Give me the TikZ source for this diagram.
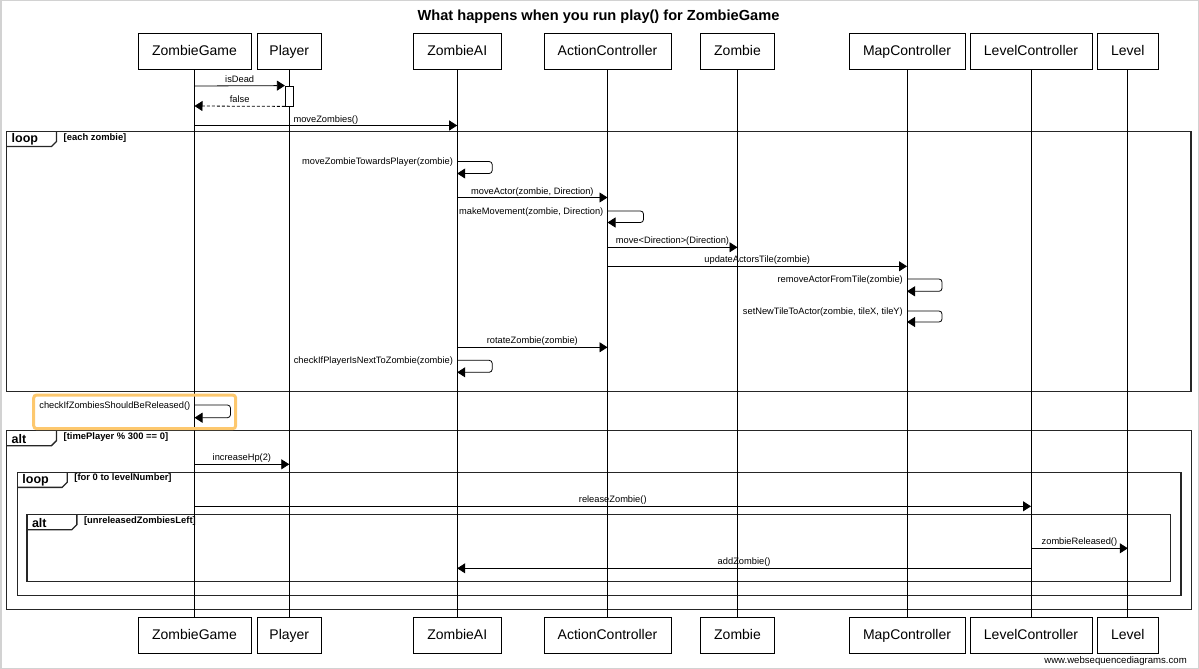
\documentclass[tikz,border=0pt]{standalone}
\usepackage{fontspec}
\setmainfont{Liberation Sans}
\usetikzlibrary{arrows.meta}
\definecolor{hl}{RGB}{253,200,110}
\tikzset{
  part/.style={draw, line width=0.8pt, minimum height=36pt, inner sep=0pt, fill=white, text height=11pt, text depth=3pt, font=\fontsize{14}{16}\selectfont},
  life/.style={line width=0.8pt},
  msg/.style={line width=0.8pt, -{Triangle[length=8pt,width=10pt]}},
  ret/.style={msg, dash pattern=on 3pt off 2pt},
  lbl/.style={font=\fontsize{9.3}{10}\selectfont, inner sep=1pt, text height=7pt, text depth=2pt},
  actbar/.style={draw, fill=white, line width=0.8pt, minimum width=8pt, minimum height=20pt, inner sep=0pt},
  frm/.style={line width=1.4pt, draw=black!85},
  kw/.style={font=\bfseries\fontsize{12.5}{14}\selectfont, inner sep=0pt},
  guard/.style={font=\bfseries\fontsize{9.4}{11}\selectfont, anchor=north west, inner sep=0pt},
  selfmsg/.style={msg, rounded corners=3pt},
}
\newcommand\sqframe[7]{%
  \draw[frm] (#2,#3) rectangle (#4,#5);
  \draw[frm] (#2,#3+15) -- (#2+45,#3+15) -- (#2+50,#3+10) -- (#2+50,#3);
  \node[kw, anchor=west] (#1k) at (#2+5,#3+8) {#6};
  \node[guard] (#1g) at (#2+57,#3+1.5) {#7};
}
\begin{document}
\begin{tikzpicture}[x=1pt,y=-1pt]
\useasboundingbox (0,0) rectangle (1199,669);
\draw[gray!35, line width=1.5pt] (0.75,0.75) rectangle (1198.25,668.25);

\node[font=\bfseries\fontsize{14.6}{16}\selectfont] (title) at (598.5,17) {What happens when you run play() for ZombieGame};

% participants top
\node[part, minimum width=113pt] (zgT) at (194.5,51.5) {ZombieGame};
\node[part, minimum width=64pt]  (plT) at (289.3,51.5) {Player};
\node[part, minimum width=88pt]  (aiT) at (457.2,51.5) {ZombieAI};
\node[part, minimum width=127pt] (acT) at (607.5,51.5) {ActionController};
\node[part, minimum width=74pt]  (zT)  at (737.5,51.5) {Zombie};
\node[part, minimum width=116pt] (mcT) at (907,51.5) {MapController};
\node[part, minimum width=122pt] (lcT) at (1031,51.5) {LevelController};
\node[part, minimum width=61pt]  (lvT) at (1127.8,51.5) {Level};
% participants bottom
\node[part, minimum width=113pt] (zgB) at (194.5,635) {ZombieGame};
\node[part, minimum width=64pt]  (plB) at (289.3,635) {Player};
\node[part, minimum width=88pt]  (aiB) at (457.2,635) {ZombieAI};
\node[part, minimum width=127pt] (acB) at (607.5,635) {ActionController};
\node[part, minimum width=74pt]  (zB)  at (737.5,635) {Zombie};
\node[part, minimum width=116pt] (mcB) at (907,635) {MapController};
\node[part, minimum width=122pt] (lcB) at (1031,635) {LevelController};
\node[part, minimum width=61pt]  (lvB) at (1127.8,635) {Level};

% frames
\sqframe{f1}{6.5}{131.5}{1191}{391.5}{loop}{[each zombie]}
\sqframe{f2}{6.5}{430.7}{1191.3}{609.3}{alt}{[timePlayer \% 300 == 0]}
\sqframe{f3}{17.2}{472.3}{1181}{595.7}{loop}{[for 0 to levelNumber]}
\sqframe{f4}{26.8}{514.7}{1170.3}{581.7}{alt}{[unreleasedZombiesLeft]}

% lifelines
\foreach \p in {zg,pl,ai,ac,z,mc,lc,lv} {\draw[life] (\p T) -- (\p B);}

% activation
\node[actbar] (act) at (plT |- 0,96) {};

% messages
\draw[msg] (zgT |- 0,86) -- node[lbl, above] {isDead} (act.north west);
\draw[ret] (act.south west) -- node[lbl, above] {false} (zgT |- 0,106);
\draw[msg] (zgT |- 0,125.5) -- node[lbl, above] {moveZombies()} (aiT |- 0,125.5);

\draw[selfmsg] (aiT |- 0,161.5) -- ++(35,0) -- ++(0,12) -- (aiT |- 0,173.5);
\node[lbl, anchor=east, xshift=-3pt] (l4) at (aiT |- 0,161.5) {moveZombieTowardsPlayer(zombie)};

\draw[msg] (aiT |- 0,197.5) -- node[lbl, above] {moveActor(zombie, Direction)} (acT |- 0,197.5);

\draw[selfmsg] (acT |- 0,211) -- ++(36,0) -- ++(0,11.5) -- (acT |- 0,222.5);
\node[lbl, anchor=east, xshift=-3pt] (l6) at (acT |- 0,212) {makeMovement(zombie, Direction)};

\draw[msg] (acT |- 0,247.3) -- node[lbl, above] {move<Direction>(Direction)} (zT |- 0,247.3);
\draw[msg] (acT |- 0,266.3) -- node[lbl, above] {updateActorsTile(zombie)} (mcT |- 0,266.3);

\draw[selfmsg] (mcT |- 0,279) -- ++(35,0) -- ++(0,12.3) -- (mcT |- 0,291.3);
\node[lbl, anchor=east, xshift=-3pt] (l9) at (mcT |- 0,280) {removeActorFromTile(zombie)};

\draw[selfmsg] (mcT |- 0,311) -- ++(35,0) -- ++(0,11) -- (mcT |- 0,322);
\node[lbl, anchor=east, xshift=-3pt] (l10) at (mcT |- 0,312) {setNewTileToActor(zombie, tileX, tileY)};

\draw[msg] (aiT |- 0,347.3) -- node[lbl, above] {rotateZombie(zombie)} (acT |- 0,347.3);

\draw[selfmsg] (aiT |- 0,360.3) -- ++(35,0) -- ++(0,12) -- (aiT |- 0,372.3);
\node[lbl, anchor=east, xshift=-3pt] (l12) at (aiT |- 0,361.3) {checkIfPlayerIsNextToZombie(zombie)};

% highlighted self message
\draw[selfmsg] (zgT |- 0,405) -- ++(36,0) -- ++(0,12.7) -- (zgT |- 0,417.7);
\node[lbl, anchor=east, xshift=-3pt] (l13) at (zgT |- 0,405.5) {checkIfZombiesShouldBeReleased()};
\draw[hl, line width=3pt, rounded corners=3pt] (33.7,395) rectangle (235.7,428.7);

\draw[msg] (zgT |- 0,464.3) -- node[lbl, above] {increaseHp(2)} (plT |- 0,464.3);
\draw[msg] (zgT |- 0,506.3) -- node[lbl, above] {releaseZombie()} (lcT |- 0,506.3);
\draw[msg] (lcT |- 0,548.3) -- node[lbl, above] {zombieReleased()} (lvT |- 0,548.3);
\draw[msg] (lcT |- 0,568.3) -- node[lbl, above] {addZombie()} (aiT |- 0,568.3);

\node[font=\fontsize{9.6}{12}\selectfont, anchor=east, inner sep=0pt] (wm) at (1187,661.5) {www.websequencediagrams.com};
\end{tikzpicture}
\end{document}
